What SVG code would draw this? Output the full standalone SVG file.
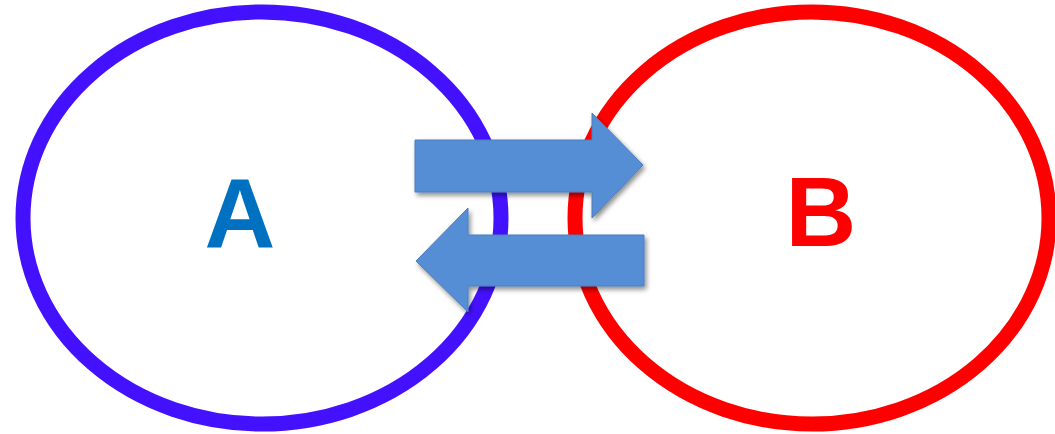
<svg xmlns="http://www.w3.org/2000/svg" width="1055" height="434" viewBox="0 0 1055 434">
<defs>
<style>
.ring{fill:none;stroke-width:15}
.lbl{font-family:"Liberation Sans",Arial,sans-serif;font-weight:bold;font-size:98px;text-anchor:middle}
.arrow{fill:#558ED5;stroke:#4A7EBB;stroke-width:1;filter:url(#sh)}
</style>
<filter id="sh" x="-20%" y="-30%" width="140%" height="160%">
<feGaussianBlur in="SourceAlpha" stdDeviation="2.5"/>
<feOffset dx="2" dy="3" result="b"/>
<feComponentTransfer><feFuncA type="linear" slope="0.45"/></feComponentTransfer>
<feMerge><feMergeNode/><feMergeNode in="SourceGraphic"/></feMerge>
</filter>
</defs>
<rect width="1055" height="434" fill="#fff"/>
<g id="nodeA">
<ellipse class="ring" cx="262" cy="218" rx="239" ry="206" stroke="#4411FF"/>
<text class="lbl" x="240" y="247" fill="#0070C0">A</text>
</g>
<g id="nodeB">
<ellipse class="ring" cx="812" cy="218" rx="237" ry="206" stroke="#FF0000"/>
<text class="lbl" x="821" y="246" fill="#FF0000">B</text>
</g>
<g id="connectors">
<polygon class="arrow" points="415,140 592,140 592,113 643,165 592,218 592,192 415,192"/>
<polygon class="arrow" points="644,235 468,235 468,208 416,261 468,312 468,286 644,286"/>
</g>
</svg>
